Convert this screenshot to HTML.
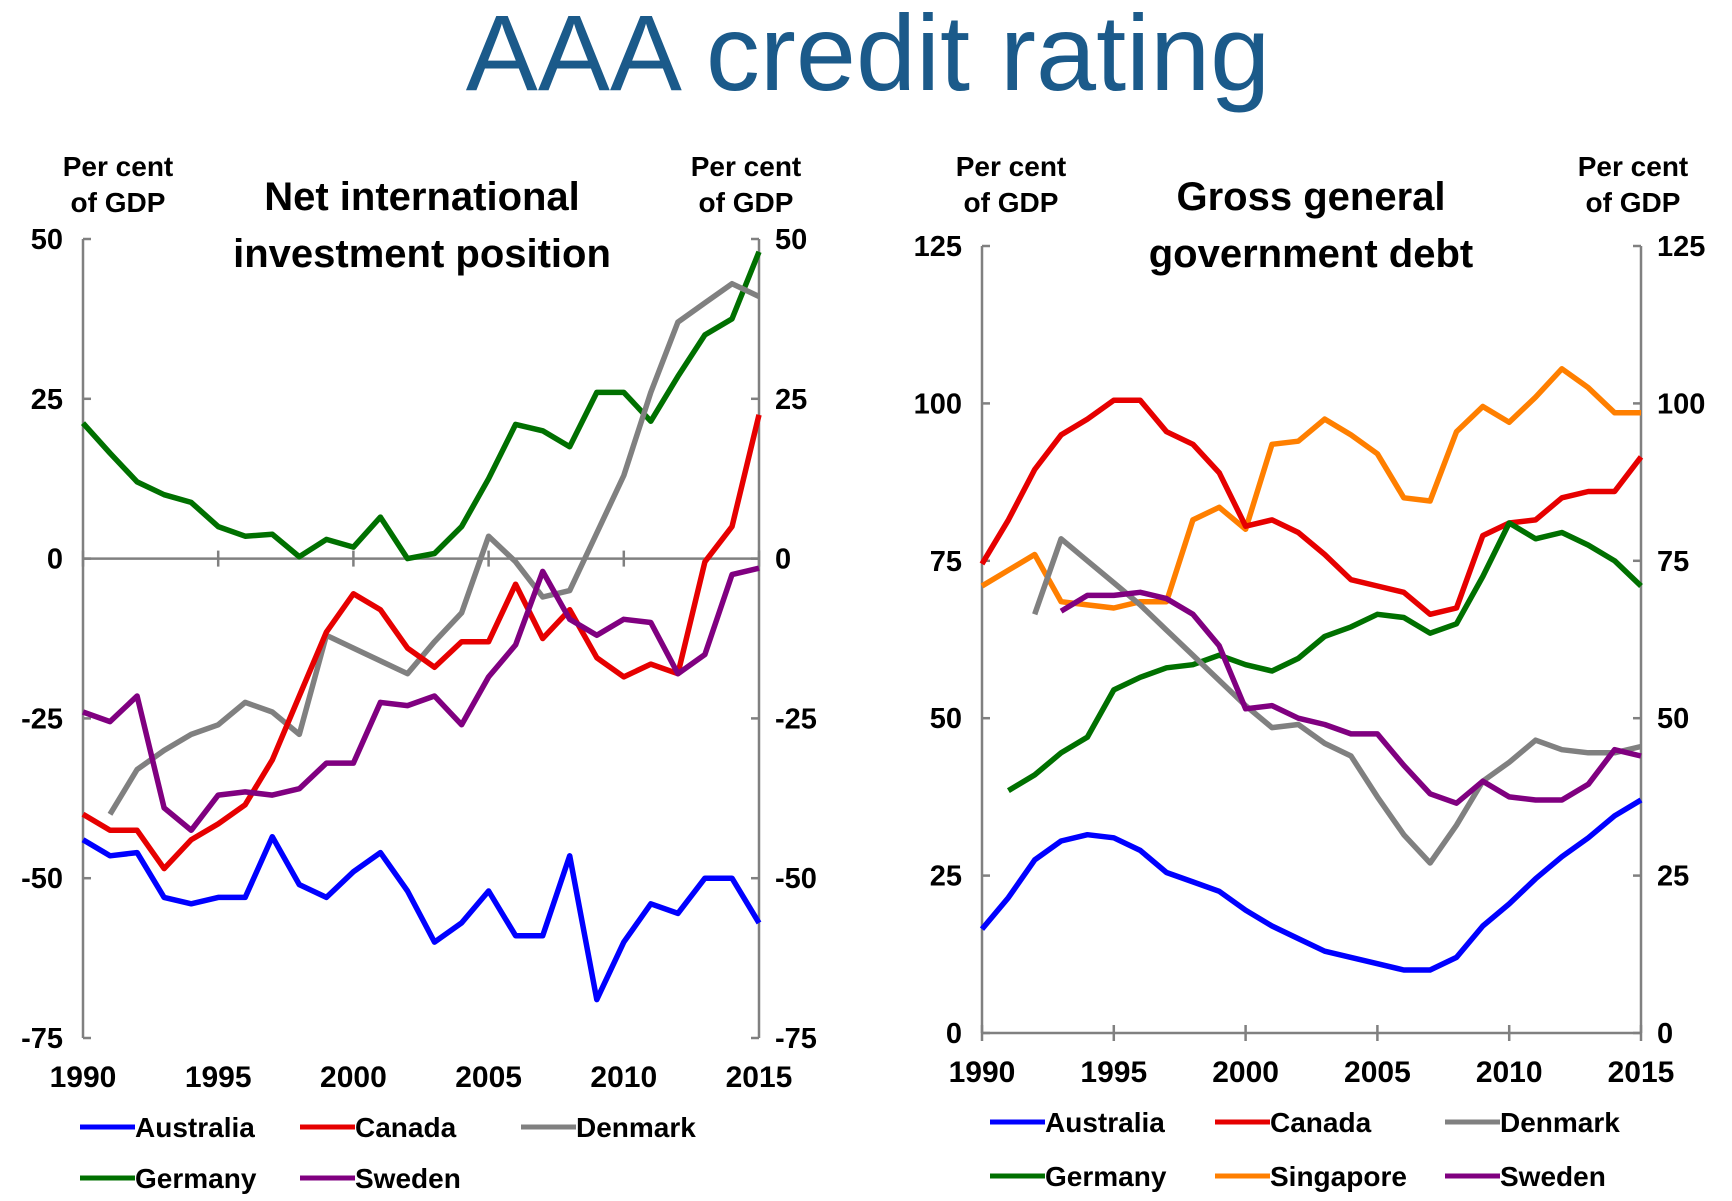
<!DOCTYPE html>
<html><head><meta charset="utf-8"><style>
html,body{margin:0;padding:0;background:#fff;}
svg{display:block;font-family:"Liberation Sans",Arial,sans-serif;}
</style></head><body>
<svg id="c" width="1732" height="1201" viewBox="0 0 1732 1201" xmlns="http://www.w3.org/2000/svg">
<text x="868" y="90" text-anchor="middle" font-size="108" fill="#1b5a8a">AAA credit rating</text>
<g id="L"></g>
<g id="R"></g>
</svg>
<script>
const years = [1990,1991,1992,1993,1994,1995,1996,1997,1998,1999,2000,2001,2002,2003,2004,2005,2006,2007,2008,2009,2010,2011,2012,2013,2014,2015];
const xTicks = [1990,1995,2000,2005,2010,2015];
const niipTicks = [50,25,0,-25,-50,-75];
const debtTicks = [125,100,75,50,25,0];
const niipAustralia = [-44,-46.5,-46,-53,-54,-53,-53,-43.5,-51,-53,-49,-46,-52,-60,-57,-52,-59,-59,-46.5,-69,-60,-54,-55.5,-50,-50,-57];
const niipCanada = [-40,-42.5,-42.5,-48.5,-44,-41.5,-38.5,-31.5,-21.5,-11.5,-5.5,-8,-14,-17,-13,-13,-4,-12.5,-8,-15.5,-18.5,-16.5,-18,-0.5,5,22.5];
const niipDenmark = [null,-40,-33,-30,-27.5,-26,-22.5,-24,-27.5,-12,-14,-16,-18,-13,-8.5,3.5,-0.5,-6,-5,4,13,26,37,40,43,41];
const niipGermany = [21.2,16.5,12,10,8.8,5,3.5,3.8,0.3,3,1.8,6.5,0,0.8,5,12.5,21,20,17.5,26,26,21.5,28.5,35,37.5,48];
const niipSweden = [-24,-25.5,-21.5,-39,-42.5,-37,-36.5,-37,-36,-32,-32,-22.5,-23,-21.5,-26,-18.5,-13.5,-2,-9.5,-12,-9.5,-10,-18,-15,-2.5,-1.5];
const debtAustralia = [16.5,21.5,27.5,30.5,31.5,31,29,25.5,24,22.5,19.5,17,15,13,12,11,10,10,12,17,20.5,24.5,28,31,34.5,37];
const debtCanada = [74.5,81.5,89.5,95,97.5,100.5,100.5,95.5,93.5,89,80.5,81.5,79.5,76,72,71,70,66.5,67.5,79,81,81.5,85,86,86,91.5];
const debtDenmark = [null,null,66.5,78.5,75,71.5,68,64,60,56,52,48.5,49,46,44,37.5,31.5,27,33,40,43,46.5,45,44.5,44.5,45.5];
const debtGermany = [null,38.5,41,44.5,47,54.5,56.5,58,58.5,60,58.5,57.5,59.5,63,64.5,66.5,66,63.5,65,72.5,81,78.5,79.5,77.5,75,71];
const debtSingapore = [71,73.5,76,68.5,68,67.5,68.5,68.5,81.5,83.5,80,93.5,94,97.5,95,92,85,84.5,95.5,99.5,97,101,105.5,102.5,98.5,98.5];
const debtSweden = [null,null,null,67,69.5,69.5,70,69,66.5,61.5,51.5,52,50,49,47.5,47.5,42.5,38,36.5,40,37.5,37,37,39.5,45,44];

const NS='http://www.w3.org/2000/svg';
function mk(parent,tag,attrs,txt){const e=document.createElementNS(NS,tag);for(const k in attrs)e.setAttribute(k,attrs[k]);if(txt!==undefined)e.textContent=txt;parent.appendChild(e);return e;}
const COL={Australia:'#0000ff',Canada:'#e60000',Denmark:'#808080',Germany:'#007000',Singapore:'#ff7f00',Sweden:'#800080'};

function chart(g,cfg){
  const xs=v=>cfg.x0+(v-1990)/25*(cfg.x1-cfg.x0);
  const ys=v=>cfg.yTop+(cfg.vMax-v)/(cfg.vMax-cfg.vMin)*(cfg.yBot-cfg.yTop);
  const ax={stroke:'#808080','stroke-width':2.5,fill:'none'};
  let e;
  e=mk(g,'line',Object.assign({x1:cfg.x0,y1:cfg.yTop,x2:cfg.x0,y2:cfg.yBot},ax));
  
  
  e=mk(g,'line',Object.assign({x1:cfg.x1,y1:cfg.yTop,x2:cfg.x1,y2:cfg.yBot},ax));
  
  
  const ya=ys(cfg.axisAt);
  e=mk(g,'line',Object.assign({x1:cfg.x0,y1:ya,x2:cfg.x1,y2:ya},ax));
  
  
  cfg.yt.forEach(v=>{
    const y=ys(v);
    mk(g,'line',Object.assign({x1:cfg.x0,y1:y,x2:cfg.x0+8,y2:y},ax));
    mk(g,'line',Object.assign({x1:cfg.x1-8,y1:y,x2:cfg.x1,y2:y},ax));
    e=mk(g,'text',{x:cfg.x0-20,y:y+10,'text-anchor':'end','font-size':29,'font-weight':'bold',fill:'#000'},String(v));
    
    
    e=mk(g,'text',{x:cfg.x1+16,y:y+10,'text-anchor':'start','font-size':29,'font-weight':'bold',fill:'#000'},String(v));
    
    
  });
  xTicks.forEach(t=>{
    const x=xs(t);
    mk(g,'line',Object.assign({x1:x,y1:ya-8,x2:x,y2:ya+8},ax));
    e=mk(g,'text',{x:x,y:cfg.xLabY,'text-anchor':'middle','font-size':30,'font-weight':'bold',fill:'#000'},String(t));
    
    
  });
  cfg.series.forEach(s=>{
    let d='';let pen=false;
    s.vals.forEach((v,i)=>{if(v===null){pen=false;return;}d+=(pen?'L':'M')+xs(years[i]).toFixed(1)+','+ys(v).toFixed(1);pen=true;});
    e=mk(g,'path',{d:d,stroke:COL[s.name],'stroke-width':5.5,fill:'none','stroke-linejoin':'round'});
    
    
  });
  [[cfg.pcL,'y-axis-title-left'],[cfg.pcR,'y-axis-title-right']].forEach(p=>{
    e=mk(g,'text',{x:p[0],y:176,'text-anchor':'middle','font-size':28,'font-weight':'bold',fill:'#000'},'Per cent');
    
    
    e=mk(g,'text',{x:p[0],y:212,'text-anchor':'middle','font-size':28,'font-weight':'bold',fill:'#000'},'of GDP');
    
    
  });
  e=mk(g,'text',{x:cfg.tx,y:210,'text-anchor':'middle','font-size':40,'font-weight':'bold',fill:'#000'},cfg.t1);
  
  
  e=mk(g,'text',{x:cfg.tx,y:267,'text-anchor':'middle','font-size':40,'font-weight':'bold',fill:'#000'},cfg.t2);
  
  
  cfg.legend.forEach(l=>{
    const lg=mk(g,'g',{});
    
    
    mk(lg,'line',{x1:l[1],y1:l[2]-10,x2:l[1]+55,y2:l[2]-10,stroke:COL[l[0]],'stroke-width':5});
    mk(lg,'text',{x:l[1]+55,y:l[2],'font-size':28,'font-weight':'bold',fill:'#000'},l[0]);
  });
}
chart(document.getElementById('L'),{x0:83,x1:759,yTop:239,yBot:1038,vMax:50,vMin:-75,axisAt:0,yt:niipTicks,xLabY:1087,
  pcL:118,pcR:746,tx:422,t1:'Net international',t2:'investment position',
  series:[{name:'Germany',vals:niipGermany},{name:'Denmark',vals:niipDenmark},{name:'Canada',vals:niipCanada},{name:'Sweden',vals:niipSweden},{name:'Australia',vals:niipAustralia}],
  legend:[['Australia',80,1137],['Canada',300,1137],['Denmark',521,1137],['Germany',80,1188],['Sweden',300,1188]]});
chart(document.getElementById('R'),{x0:982,x1:1641,yTop:246,yBot:1033,vMax:125,vMin:0,axisAt:0,yt:debtTicks,xLabY:1082,
  pcL:1011,pcR:1633,tx:1311,t1:'Gross general',t2:'government debt',
  series:[{name:'Singapore',vals:debtSingapore},{name:'Canada',vals:debtCanada},{name:'Germany',vals:debtGermany},{name:'Denmark',vals:debtDenmark},{name:'Sweden',vals:debtSweden},{name:'Australia',vals:debtAustralia}],
  legend:[['Australia',990,1132],['Canada',1215,1132],['Denmark',1445,1132],['Germany',990,1186],['Singapore',1215,1186],['Sweden',1445,1186]]});
</script>
</body></html>
